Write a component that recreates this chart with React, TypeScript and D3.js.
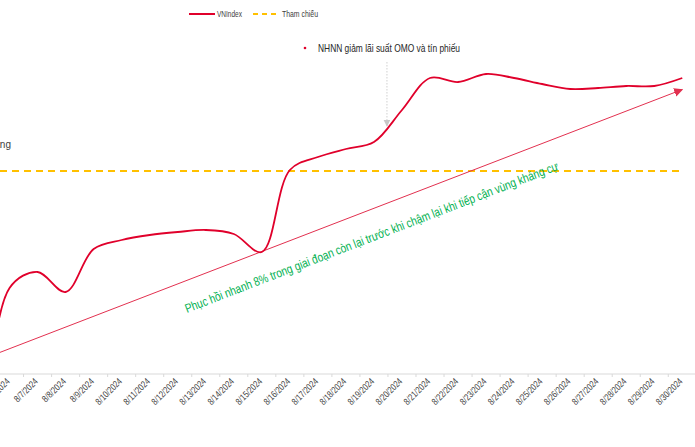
import React from "react";
import * as d3 from "d3";

const dates = [
  "8/5/2024", "8/6/2024", "8/7/2024", "8/8/2024", "8/9/2024", "8/10/2024",
  "8/11/2024", "8/12/2024", "8/13/2024", "8/14/2024", "8/15/2024", "8/16/2024",
  "8/17/2024", "8/18/2024", "8/19/2024", "8/20/2024", "8/21/2024", "8/22/2024",
  "8/23/2024", "8/24/2024", "8/25/2024", "8/26/2024", "8/27/2024", "8/28/2024",
  "8/29/2024", "8/30/2024",
];

const vnindex = [
  1130, 1198.6, 1205, 1197, 1214.2, 1217.8, 1219.8, 1221, 1221.8, 1220.2,
  1213, 1245.8, 1251, 1254.2, 1257, 1269.8, 1282.6, 1281, 1284.2, 1282.6,
  1280.2, 1278.2, 1278.6, 1279.4, 1279.4, 1282.6,
];

const referenceLevel = 1245.4;

const trendFrom = { date: "8/5/2024", value: 1170 };
const trendTo = { date: "8/30/2024", value: 1278 };

const noteDates = ["8/19/2024", "8/20/2024"];

const legendItems = ["VNIndex", "Tham chiếu"];
const noteText = "NHNN giảm lãi suất OMO và tín phiếu";
const trendText =
  "Phục hồi nhanh 8% trong giai đoạn còn lại trước khi chậm lại khi tiếp cận vùng kháng cự";
const leftText = "Vùng kháng";

const W = 695;
const H = 447;
const FONT = "'Liberation Sans', Arial, sans-serif";
const RED = "#e0002b";
const YELLOW = "#ffc000";

// condensed look: squeeze text to the width the narrow font would take
const narrowWidth = (s: string, size: number) => s.length * size * 0.46;

export default function App() {
  const x = d3.scaleBand<string>().domain(dates).range([-32.5, 696.3]).paddingInner(0);
  const bw = x.bandwidth();
  const cx = (d: string) => (x(d) ?? 0) + bw / 2;
  const y = d3.scaleLinear().domain([1150, 1300]).range([409.5, 34.5]);

  const line = d3
    .line<number>()
    .x((_, i) => cx(dates[i]))
    .y((v) => y(v))
    .curve(d3.curveCatmullRom.alpha(0.5));

  const axisY = 374;
  const lastX = cx(dates[dates.length - 1]);

  const tx0 = cx(trendFrom.date);
  const ty0 = y(trendFrom.value);
  const tx1 = cx(trendTo.date);
  const ty1 = y(trendTo.value);
  const angle = (Math.atan2(ty1 - ty0, tx1 - tx0) * 180) / Math.PI;

  const noteX = (cx(noteDates[0]) + cx(noteDates[1])) / 2 - 1;

  return (
    <div style={{ position: "absolute", left: 0, top: 0, width: W, height: H }}>
      <svg width={W} height={H} style={{ display: "block", background: "#fff" }}>
        <defs>
          <marker id="trendHead" viewBox="0 0 10 10" refX="9" refY="5" markerWidth="9" markerHeight="9" markerUnits="userSpaceOnUse" orient="auto">
            <path d="M0,0 L10,5 L0,10 z" fill="#e2304f" />
          </marker>
          <marker id="noteHead" viewBox="0 0 10 10" refX="9" refY="5" markerWidth="7" markerHeight="7" markerUnits="userSpaceOnUse" orient="auto">
            <path d="M0,0 L10,5 L0,10 z" fill="#c8c8c8" />
          </marker>
        </defs>

        {/* legend */}
        <g fontFamily={FONT} fontSize={8.5} fill="#404040">
          <line x1={189} x2={215} y1={14} y2={14} stroke={RED} strokeWidth={2} />
          <text x={217} y={17} textLength={25} lengthAdjust="spacingAndGlyphs">{legendItems[0]}</text>
          <line x1={253} x2={280} y1={14} y2={14} stroke={YELLOW} strokeWidth={2} strokeDasharray="5,4" />
          <text x={282} y={17} textLength={36} lengthAdjust="spacingAndGlyphs">{legendItems[1]}</text>
        </g>

        {/* left label */}
        <text x={11} y={148} textAnchor="end" fontFamily={FONT} fontSize={10} fill="#404040">
          {leftText}
        </text>

        {/* x axis */}
        <line x1={0} x2={W} y1={axisY} y2={axisY} stroke="#d9d9d9" strokeWidth={1} />
        {dates.map((d) => (
          <line key={"t" + d} x1={x(d)} x2={x(d)} y1={axisY} y2={axisY + 3} stroke="#d9d9d9" />
        ))}
        {dates.map((d) => (
          <text
            key={"l" + d}
            transform={`translate(${cx(d) + 1},${axisY + 8}) rotate(-45)`}
            textAnchor="end"
            fontFamily={FONT}
            fontSize={9.5}
            fill="#404040"
            textLength={narrowWidth(d, 8)}
            lengthAdjust="spacingAndGlyphs"
          >
            {d}
          </text>
        ))}

        {/* reference line */}
        <line x1={0} x2={lastX} y1={y(referenceLevel)} y2={y(referenceLevel)} stroke={YELLOW} strokeWidth={2} strokeDasharray="7,5" />

        {/* trend arrow */}
        <line x1={tx0} y1={ty0} x2={tx1} y2={ty1} stroke="#e2304f" strokeWidth={1} markerEnd="url(#trendHead)" />

        {/* VNIndex line */}
        <path d={line(vnindex) ?? ""} fill="none" stroke={RED} strokeWidth={1.8} />

        {/* note */}
        <circle cx={305} cy={48} r={1.3} fill={RED} />
        <text x={318} y={52} fontFamily={FONT} fontSize={11} fill="#262626" textLength={142} lengthAdjust="spacingAndGlyphs">
          {noteText}
        </text>
        <line x1={noteX} x2={noteX} y1={62} y2={126} stroke="#d0d0d0" strokeWidth={1} strokeDasharray="1.5,1.5" markerEnd="url(#noteHead)" />

        {/* trend label */}
        <text
          transform={`translate(187,313) rotate(${angle})`}
          fontFamily={FONT}
          fontSize={12.5}
          fill="#00b050"
          textLength={399}
          lengthAdjust="spacingAndGlyphs"
        >
          {trendText}
        </text>
      </svg>
    </div>
  );
}
